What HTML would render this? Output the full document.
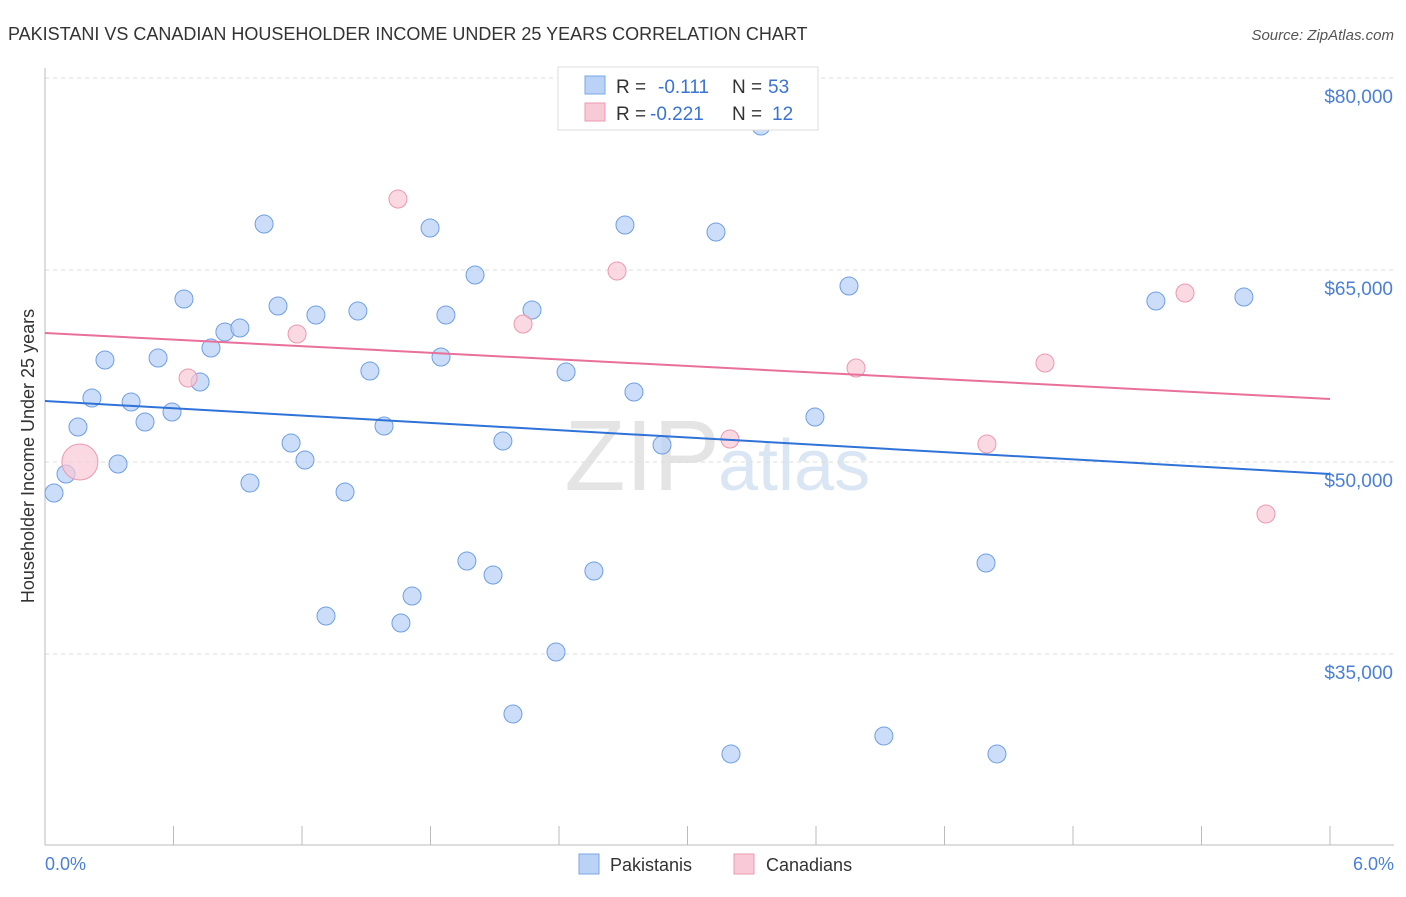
<!DOCTYPE html>
<html><head><meta charset="utf-8"><style>
body{margin:0;background:#fff;font-family:"Liberation Sans",sans-serif}
svg text{font-family:"Liberation Sans",sans-serif}
</style></head><body>
<svg width="1406" height="892" id="chart">
<text x="8" y="40" font-size="18" fill="#333">PAKISTANI VS CANADIAN HOUSEHOLDER INCOME UNDER 25 YEARS CORRELATION CHART</text>
<text x="1394" y="40" font-size="15" fill="#555" text-anchor="end" font-style="italic">Source: ZipAtlas.com</text>
<text x="720" y="490" font-size="100" fill="#e4e4e4" text-anchor="end" font-family="Liberation Serif">ZIP</text>
<text x="718" y="490" font-size="72" fill="#dbe6f5">atlas</text>
<g id="grid"></g><g id="axes"></g><g id="marks"></g>
<text transform="translate(34,456) rotate(-90)" font-size="18" fill="#333" text-anchor="middle">Householder Income Under 25 years</text>
<text x="45" y="870" font-size="18" fill="#4a7fd6">0.0%</text>
<text x="1394" y="870" font-size="18" fill="#4a7fd6" text-anchor="end">6.0%</text>
<g>
<rect x="558" y="67" width="260" height="63" fill="#fff" stroke="#ddd"/>
<rect x="585" y="76" width="20" height="18" fill="#b9d2f5" stroke="#7aa6e6"/>
<text x="616" y="93" font-size="19" fill="#333">R = </text><text x="658" y="93" font-size="19" fill="#3b73d3">-0.111</text>
<text x="732" y="93" font-size="19" fill="#333">N = </text><text x="768" y="93" font-size="19" fill="#3b73d3">53</text>
<rect x="585" y="103" width="20" height="18" fill="#f8c9d6" stroke="#ee9ab2"/>
<text x="616" y="120" font-size="19" fill="#333">R = </text><text x="650" y="120" font-size="19" fill="#3b73d3">-0.221</text>
<text x="732" y="120" font-size="19" fill="#333">N = </text><text x="772" y="120" font-size="19" fill="#3b73d3">12</text>
</g>
<g>
<rect x="579" y="854" width="20" height="20" fill="#b9d2f5" stroke="#7aa6e6"/>
<text x="610" y="871" font-size="18" fill="#333">Pakistanis</text>
<rect x="734" y="854" width="20" height="20" fill="#f8c9d6" stroke="#ee9ab2"/>
<text x="766" y="871" font-size="18" fill="#333">Canadians</text>
</g>
</svg>
<script>
const yTicks=[35000,50000,65000,80000];
const yTickLabels=["$35,000","$50,000","$65,000","$80,000"];
const xTicks=[0,0.6,1.2,1.8,2.4,3.0,3.6,4.2,4.8,5.4,6.0];
const blueX=[0.042,0.098,0.154,0.219,0.280,0.341,0.402,0.467,0.528,0.593,0.649,0.724,0.775,0.840,0.910,0.957,1.023,1.088,1.149,1.214,1.265,1.401,1.461,1.312,1.517,1.583,1.662,1.714,1.798,1.872,1.849,1.970,2.008,2.092,2.138,2.185,2.274,2.386,2.433,2.563,2.708,2.750,2.881,3.133,3.203,3.343,3.595,3.754,3.917,4.394,4.445,5.187,5.598];
const blueY=[47578,49062,52734,55000,57969,49844,54688,53125,58125,53906,62734,56250,58906,60156,60469,48359,68594,62188,51484,50156,61484,47656,61797,37969,57109,52813,37422,39531,68281,61484,58203,42266,64609,41172,51641,30313,61875,35156,57031,41484,68516,55469,51328,67969,27188,76250,53516,63750,28594,42109,27188,62578,62891];
const pinkX=[0.163,0.668,1.177,1.648,2.232,2.671,3.198,3.787,4.398,4.669,5.323,5.701];
const pinkY=[50000,56563,60000,70547,60781,64922,51797,57344,51406,57734,63203,45938];
const pinkR=[18,9,9,9,9,9,9,9,9,9,9,9];
const blueTrend=[54766,49063];
const pinkTrend=[60078,54922];
const NS="http://www.w3.org/2000/svg";
const sx=v=>45+v/6*1285;
const sy=v=>78+(80000-v)/15000*192;
function mk(tag,attrs,parent){const e=document.createElementNS(NS,tag);for(const k in attrs)e.setAttribute(k,attrs[k]);document.getElementById(parent).appendChild(e);return e;}
yTicks.forEach((t,i)=>{
 const l=mk('line',{x1:45,x2:1394,y1:sy(t),y2:sy(t),stroke:'#ddd','stroke-dasharray':'4,4'},'grid');
 
 
 const tx=mk('text',{x:1393,y:sy(t)+25,'font-size':19,fill:'#4a7fd6','text-anchor':'end'},'grid');
 tx.textContent=yTickLabels[i];
 
 
});
const ax=mk('line',{x1:45,x2:45,y1:68,y2:845,stroke:'#bbb'},'axes');


const bx=mk('line',{x1:45,x2:1394,y1:845,y2:845,stroke:'#bbb'},'axes');


xTicks.forEach(t=>{
 const l=mk('line',{x1:sx(t),x2:sx(t),y1:826,y2:845,stroke:'#bbb'},'axes');
 
 
});
blueX.forEach((x,i)=>{
 const c=mk('circle',{cx:sx(x),cy:sy(blueY[i]),r:9,fill:'rgba(185,210,245,0.75)',stroke:'#6f9fe3','stroke-width':1},'marks');
 
 
});
pinkX.forEach((x,i)=>{
 const c=mk('circle',{cx:sx(x),cy:sy(pinkY[i]),r:pinkR[i],fill:'rgba(248,201,214,0.7)',stroke:'#ec98b0','stroke-width':1},'marks');
 
 
});
const bl=mk('line',{x1:sx(0),x2:sx(6),y1:sy(blueTrend[0]),y2:sy(blueTrend[1]),stroke:'#2f72d8','stroke-width':2},'marks');


const pl=mk('line',{x1:sx(0),x2:sx(6),y1:sy(pinkTrend[0]),y2:sy(pinkTrend[1]),stroke:'#e8709a','stroke-width':2},'marks');


</script>
</body></html>
